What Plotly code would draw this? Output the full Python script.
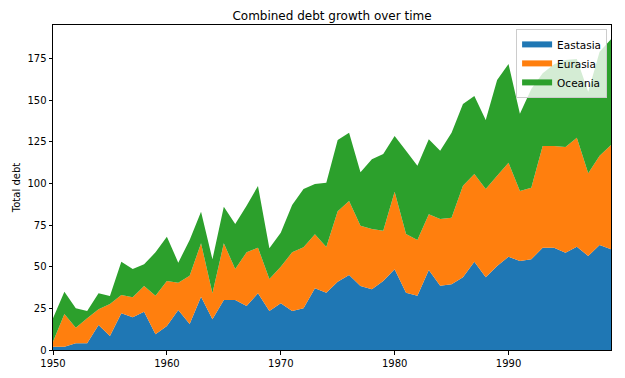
import plotly.graph_objects as go

years = list(range(1950, 2000))

eastasia = [2, 2, 4, 4, 15, 8.4, 22, 19.6, 23, 9.4,
            14.4, 24, 15.6, 32, 18.4, 30, 30, 26.4, 34, 23.4,
            28, 23.4, 25, 37, 34.4, 41, 45, 38.4, 36.4, 41.4,
            48.4, 34.4, 32.6, 48, 38.6, 39.4, 43.6, 53, 43.6, 50.4,
            56, 53.4, 54.4, 61.4, 61.4, 58.4, 62, 56.4, 63, 60.4]

eurasia = [3, 19.6, 9.4, 15, 9.4, 19.2, 11, 12, 15.4, 23.2,
           27, 16.4, 29, 32, 15.6, 34, 18.6, 32.2, 27.4, 19.2,
           22, 35.2, 36.6, 32.4, 27.4, 42.3, 44.4, 36.2, 36.2, 30.2,
           46.6, 35.2, 33.4, 33.4, 40, 40, 55, 52.6, 53, 54.2,
           56.4, 42, 43, 61, 61, 63.4, 65.4, 49.6, 53.5, 62.6]

oceania = [14, 13.4, 11.6, 4.4, 9.6, 4.8, 20, 17, 13, 26,
           26.6, 12, 21.4, 19, 20.4, 22, 27, 28, 37, 18.4,
           20.4, 28.4, 35, 30.2, 38.6, 42.7, 41, 32, 41.8, 46,
           33.4, 50, 44.6, 45, 41, 51, 49, 46.8, 41.4, 57.4,
           59.2, 46.4, 59.2, 43.6, 49.1, 52.2, 47.2, 49, 62.5, 63.4]

series = [("Eastasia", eastasia, "#1f77b4"),
          ("Eurasia", eurasia, "#ff7f0e"),
          ("Oceania", oceania, "#2ca02c")]

x_ticks = [1950, 1960, 1970, 1980, 1990]
y_ticks = [0, 25, 50, 75, 100, 125, 150, 175]

fig = go.Figure()
for name, vals, color in series:
    fig.add_trace(go.Scatter(
        x=years, y=vals, name=name, stackgroup="one", mode="none",
        fillcolor=color, line=dict(width=0),
    ))

font_family = "DejaVu Sans"
fig.update_layout(
    width=625, height=378,
    margin=dict(l=53, r=14, t=25, b=28, autoexpand=False),
    paper_bgcolor="white", plot_bgcolor="white",
    font=dict(family=font_family, size=10, color="black"),
    title=dict(text="Combined debt growth over time", x=0.5, xref="paper",
               xanchor="center", y=1, yref="paper", yanchor="bottom",
               pad=dict(b=5), font=dict(size=12, color="black")),
    xaxis=dict(range=[1950, 1999], tickvals=x_ticks, ticks="outside",
               ticklen=3.5, tickcolor="black", showline=True, mirror=True,
               linecolor="black", linewidth=1, showgrid=False, zeroline=False),
    yaxis=dict(range=[0, 195], tickvals=y_ticks, ticks="outside",
               ticklen=3.5, tickcolor="black", showline=True, mirror=True,
               linecolor="black", linewidth=1, showgrid=False, zeroline=False,
               title=dict(text="Total debt", font=dict(size=10), standoff=4)),
    legend=dict(x=0.993, y=0.988, xanchor="right", yanchor="top",
                traceorder="normal",
                bgcolor="rgba(255,255,255,0.8)", bordercolor="#cccccc",
                borderwidth=1, font=dict(size=10.5), tracegroupgap=0,
                itemwidth=30),
    showlegend=True,
)

fig.write_html("out.html", config={"displayModeBar": False},
               post_script="document.body.style.margin='0';document.body.style.padding='0';")
